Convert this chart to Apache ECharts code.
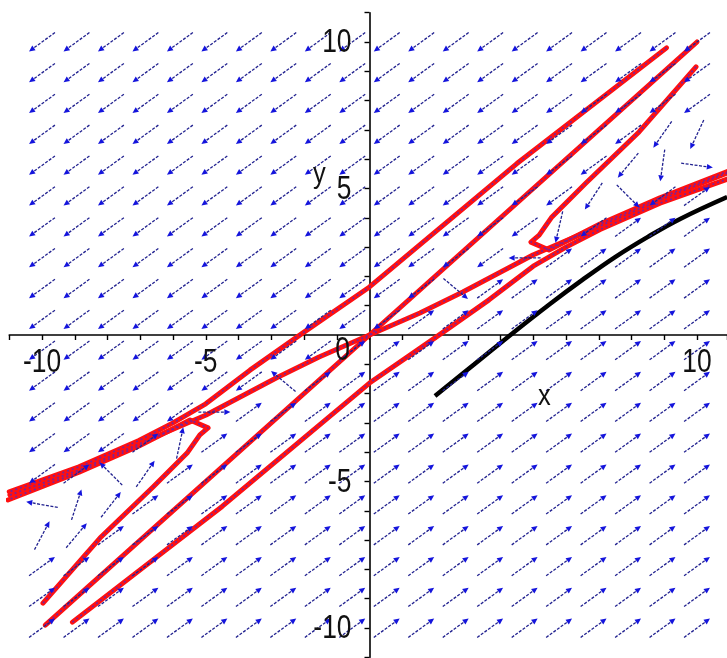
<!DOCTYPE html>
<html><head><meta charset="utf-8">
<script src="https://cdn.jsdelivr.net/npm/echarts@6/dist/echarts.min.js"></script>
<style>html,body{margin:0;padding:0;background:#fff}#c{width:727px;height:658px}</style>
</head><body><div id="c"></div>
<script>
// ---- data ----
const gridX = [-10,-8.947,-7.895,-6.842,-5.789,-4.737,-3.684,-2.632,-1.579,-0.526,0.526,1.579,2.632,3.684,4.737,5.789,6.842,7.895,8.947,10];
const gridY = [-10,-8.947,-7.895,-6.842,-5.789,-4.737,-3.684,-2.632,-1.579,-0.526,0.526,1.579,2.632,3.684,4.737,5.789,6.842,7.895,8.947,10];
// rows from top (y=10) to bottom (y=-10): L = arrow down-left, R = arrow up-right, * = special
const fieldRows = [
 'LLLLLLLLLLLLLLLLLLLL',
 'LLLLLLLLLLLLLLLLLLLL',
 'LLLLLLLLLLLLLLLLLLLL',
 'LLLLLLLLLLLLLLLLLL**',
 'LLLLLLLLLLLLLLLLL***',
 'LLLLLLLLLLLLLLLL**LR',
 'LLLLLLLLLLLLLLL*LRRR',
 'LLLLLLLLLLLLLL*RRRRR',
 'LLLLLLLLLLLL*RRRRRRR',
 'LLLLLLLLLLLRRRRRRRRR',
 'LLLLLLLLLRRRRRRRRRRR',
 'LLLLLLL*RRRRRRRRRRRR',
 'LLLLL*RRRRRRRRRRRRRR',
 'LLLR*RRRRRRRRRRRRRRR',
 'LR**RRRRRRRRRRRRRRRR',
 '***RRRRRRRRRRRRRRRRR',
 '**RRRRRRRRRRRRRRRRRR',
 'RRRRRRRRRRRRRRRRRRRR',
 'RRRRRRRRRRRRRRRRRRRR',
 'RRRRRRRRRRRRRRRRRRRR'
];
const angleL = 216, angleR = 36;
// [column i, row j (from bottom), direction in degrees]
const specialArrows = [
 [18,16,235],[19,16,245],[17,15,230],[18,15,262],[19,15,352],[16,14,237],[17,14,315],
 [15,13,257],[14,12,180],[12,11,320],
 [7,8,140],[5,7,0],[4,6,78],[2,5,135],[3,5,55],[0,4,170],[1,4,72],[2,4,52],[0,3,62],[1,3,50]
];
const curveT = [[-10.98,-5.46],[-8.87,-4.61],[-7.04,-3.72],[-4.99,-2.73],[-2.85,-1.47],[-1.54,-0.75],[0,0],[1.54,0.75],[2.85,1.47],[4.99,2.73],[7.04,3.72],[8.87,4.61],[10.92,5.53]];
const curveD = [[-9.9,-9.9],[0,0],[10,10]];
const curveA = [[9.07,9.8],[4.5,5.85],[0,1.64],[-2.0,0.1],[-3.65,-1.2],[-5.0,-2.35],[-6.0,-3.0],[-7.04,-3.6],[-8.87,-4.5],[-11.0,-5.35]];
const curveB = [[-9.07,-9.8],[-4.5,-5.85],[0,-1.64],[2.0,-0.1],[3.65,1.2],[5.0,2.35],[6.0,3.0],[7.04,3.6],[8.87,4.5],[11.0,5.35]];
const curveC1 = [[-9.97,-9.15],[-8.23,-6.93],[-6.61,-5.19],[-5.57,-4.03],[-5.18,-3.41],[-4.93,-3.17],[-5.48,-2.9],[-7.04,-3.79],[-8.87,-4.68],[-11.04,-5.63]];
const curveC2 = [[9.97,9.15],[8.23,6.93],[6.61,5.19],[5.57,4.03],[5.18,3.41],[4.93,3.17],[5.48,2.9],[7.04,3.79],[8.87,4.68],[11.04,5.63]];
const curveBlack = [[2.0,-2.08],[3.2,-1.0],[4.38,0.07],[5.5,1.05],[6.5,1.88],[7.5,2.66],[8.5,3.35],[9.5,3.97],[10.92,4.71]];
const xTickLabels = [-10,-5,10];
const yTickLabels = [10,5,-5,-10];
const originLabel = [0];

// ---- build ----
const arrowData = [];
fieldRows.forEach((row, r) => {
  const j = 19 - r;
  for (let i = 0; i < 20; i++) {
    const ch = row[i];
    let a = ch === 'L' ? angleL : angleR;
    if (ch === '*') {
      const s = specialArrows.find(s => s[0] === i && s[1] === j);
      a = s ? s[2] : angleR;
    }
    arrowData.push([gridX[i], gridY[j], a]);
  }
});
const ARROW_LEN = 32;
function renderArrow(params, api) {
  const ang = api.value(2) * Math.PI / 180;
  const c = api.coord([api.value(0), api.value(1)]);
  const dx = Math.cos(ang), dy = -Math.sin(ang);
  const h = ARROW_LEN / 2;
  const tail = [c[0] - dx * h, c[1] - dy * h], head = [c[0] + dx * h, c[1] + dy * h];
  const hl = 6, hw = 2.8;
  const base = [head[0] - dx * hl, head[1] - dy * hl];
  const px = -dy, py = dx;
  return { type: 'group', children: [
    { type: 'line', shape: { x1: tail[0], y1: tail[1], x2: base[0], y2: base[1] }, style: { stroke: '#222290', lineWidth: 1.3, lineDash: [3, 1.5] } },
    { type: 'polygon', shape: { points: [head, [base[0] + px * hw, base[1] + py * hw], [base[0] - px * hw, base[1] - py * hw]] }, style: { fill: '#1414dc' } }
  ]};
}
function redSeries(data) {
  return [
    { type: 'line', data, showSymbol: false, silent: true, z: 2, lineStyle: { color: '#ff1010', width: 5, cap: 'round', join: 'round' } },
    { type: 'line', data, showSymbol: false, silent: true, z: 3, lineStyle: { color: '#7d2296', width: 1.8, type: [2, 3] } }
  ];
}
const FONT = '33px "Liberation Sans", Arial, sans-serif';
function textEl(x, y, text, align) {
  return { type: 'text', x, y, scaleX: 0.8, style: { text, font: FONT, fill: '#111', align, verticalAlign: 'middle' } };
}
const chart = echarts.init(document.getElementById('c'));
chart.setOption({
  animation: false,
  backgroundColor: '#fff',
  grid: { left: 9.25, right: 0, top: 12.7, bottom: 0.7, containLabel: false, outerBoundsMode: 'none' },
  xAxis: {
    type: 'value', min: -11, max: 10.916, interval: 1,
    axisLine: { onZero: true, lineStyle: { color: '#000', width: 1.6 } },
    axisTick: { length: 5, lineStyle: { color: '#000', width: 1.4 } },
    splitLine: { show: false }, axisLabel: { show: false }
  },
  yAxis: {
    type: 'value', min: -11, max: 11, interval: 1,
    axisLine: { onZero: true, lineStyle: { color: '#000', width: 1.6 } },
    axisTick: { length: 5, lineStyle: { color: '#000', width: 1.4 } },
    splitLine: { show: false }, axisLabel: { show: false }
  },
  graphic: [
    { type: 'text', left: 538, top: 382, z: 10, scaleX: 0.85, style: { text: 'x', font: '30px "Liberation Sans", sans-serif', fill: '#111' } },
    { type: 'text', left: 313, top: 160, z: 10, scaleX: 0.85, style: { text: 'y', font: '30px "Liberation Sans", sans-serif', fill: '#111' } }
  ],
  series: [
    ...redSeries(curveT), ...redSeries(curveD), ...redSeries(curveA), ...redSeries(curveB),
    ...redSeries(curveC1), ...redSeries(curveC2),
    { type: 'line', data: curveBlack, smooth: 0.4, showSymbol: false, silent: true, z: 4, lineStyle: { color: '#000', width: 4.5 } },
    { type: 'custom', data: arrowData, renderItem: renderArrow, z: 5, silent: true },
    { type: 'custom', data: xTickLabels.map(v => [v]), z: 10, silent: true, clip: false,
      renderItem: (p, api) => { const c = api.coord([api.value(0), 0]); return textEl(c[0], c[1] + 28, String(api.value(0)), 'center'); } },
    { type: 'custom', data: yTickLabels.map(v => [v]), z: 10, silent: true, clip: false,
      renderItem: (p, api) => { const c = api.coord([0, api.value(0)]); return textEl(c[0] - 18, c[1] + 1, String(api.value(0)), 'right'); } },
    { type: 'custom', data: originLabel.map(v => [v]), z: 10, silent: true, clip: false,
      renderItem: (p, api) => { const c = api.coord([api.value(0), 0]); return textEl(c[0] - 27, c[1] + 16, String(api.value(0)), 'center'); } }
  ]
});
</script></body></html>
